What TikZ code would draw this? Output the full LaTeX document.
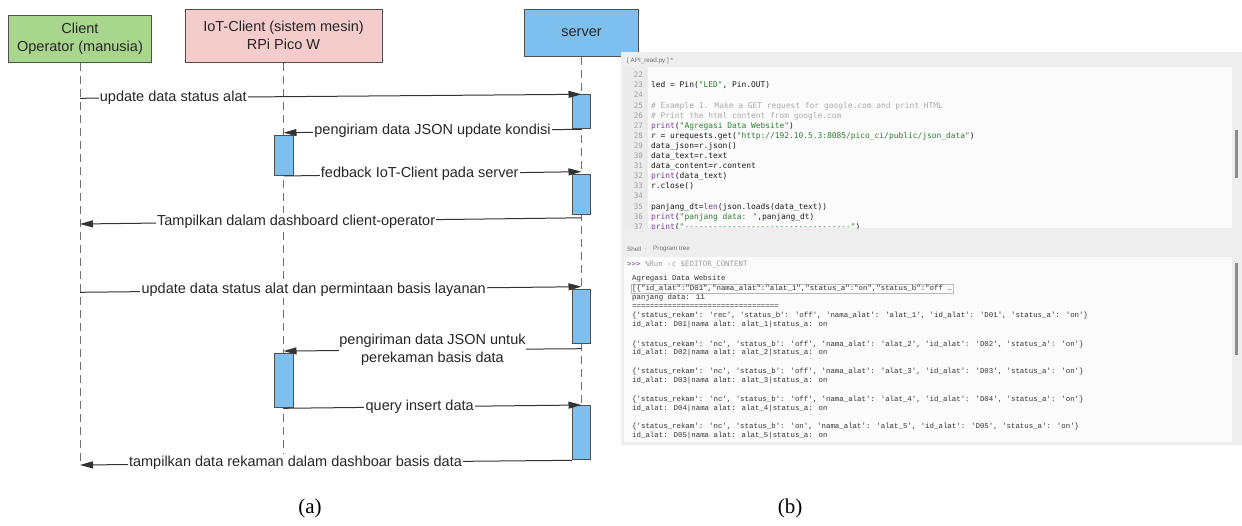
\documentclass[tikz,border=0pt]{standalone}
\usepackage{fontspec}
\setmainfont{Liberation Sans}
\newfontfamily\capfont{Liberation Serif}
\newfontfamily\codefont{DejaVu Sans Mono}[Ligatures=TeXOff]
\newfontfamily\shellfont{Liberation Mono}[Ligatures=TeXOff]
\usetikzlibrary{arrows.meta}
\definecolor{cgreen}{HTML}{A9D68D}
\definecolor{cpink}{HTML}{F4CCCC}
\definecolor{cblue}{HTML}{7DC0F0}
\definecolor{cborder}{HTML}{505050}
\definecolor{cline}{HTML}{333333}
\definecolor{clife}{HTML}{707070}
\definecolor{panelgray}{HTML}{EEEEEE}
\definecolor{editwhite}{HTML}{FBFBFB}
\definecolor{guttergray}{HTML}{EBEBEB}
\definecolor{numgray}{HTML}{A0A0A0}
\definecolor{codeblack}{HTML}{1A1A1A}
\definecolor{ccom}{HTML}{ABABAB}
\definecolor{cstr}{HTML}{2E7D32}
\definecolor{ckw}{HTML}{7B3F98}
\definecolor{shellgray}{HTML}{333333}
\definecolor{tabgray}{HTML}{707070}
\definecolor{thumbgray}{HTML}{8C8C8C}
\newcommand\dictl[3]{\{'status\_rekam': '#1', 'status\_b': '#2', 'nama\_alat': 'alat\_#3', 'id\_alat': 'D0#3', 'status\_a': 'on'\}}
\newcommand\idl[1]{id\_alat: D0#1|nama alat: alat\_#1|status\_a: on}
\begin{document}
\begin{tikzpicture}[x=1pt,y=-1pt,
  hdr/.style={draw=cborder, line width=1pt, align=center, inner sep=2pt,
    font=\fontsize{14.5}{18}\selectfont, text=black!85},
  act/.style={draw=cborder, line width=1pt, fill=cblue, inner sep=0pt, anchor=north},
  life/.style={draw=clife, line width=1pt, dash pattern=on 8pt off 5pt},
  msg/.style={draw=cline, line width=1pt, -{Triangle[length=13pt,width=7pt]}},
  lbl/.style={fill=white, inner sep=1.2pt, font=\fontsize{14.5}{18}\selectfont, text=black!85},
  lnum/.style={anchor=east, inner sep=0pt, text height=5.6pt, text depth=1.6pt,
    font=\codefont\fontsize{7.5}{8}\selectfont, text=numgray},
  code/.style={anchor=west, inner sep=0pt, text height=5.8pt, text depth=1.7pt,
    font=\codefont\fontsize{7.9}{9}\selectfont, text=codeblack},
  sh/.style={anchor=west, inner sep=0pt, text height=5.2pt, text depth=1.5pt,
    font=\shellfont\fontsize{7.4}{8}\selectfont, text=shellgray},
  tabtxt/.style={anchor=west, inner sep=0pt, font=\fontsize{6.3}{7}\selectfont, text=tabgray},
  captxt/.style={font=\capfont\fontsize{21}{24}\selectfont, text=black}]

\path[fill=white] (0,0) rectangle (1242,525);

% ---------- (a) sequence diagram ----------
\node[hdr, fill=cgreen, minimum width=143pt, minimum height=47.5pt] (cli) at (80,38.8) {Client\\Operator (manusia)};
\node[hdr, fill=cpink, minimum width=197pt, minimum height=53pt] (iot) at (283.5,35.8) {IoT-Client (sistem mesin)\\RPi Pico W};
\node[hdr, fill=cblue, minimum width=114pt, minimum height=47.4pt] (srv) at (581.5,33) {server};

\coordinate (cliend) at (80,465);
\coordinate (iotend) at (283.5,453);
\coordinate (srvend) at (581.5,405);
\draw[life] (cli.south) -- (cliend);
\draw[life] (iot.south) -- (iotend);
\draw[life] (srv.south) -- (srvend);

\node[act, minimum width=18pt, minimum height=34pt] (s1) at (581.5,94.3) {};
\node[act, minimum width=19pt, minimum height=40.3pt] (i1) at (283.5,134.7) {};
\node[act, minimum width=18pt, minimum height=40pt] (s2) at (581.5,174.3) {};
\node[act, minimum width=18pt, minimum height=54pt] (s3) at (581.5,289.3) {};
\node[act, minimum width=19pt, minimum height=54pt] (i2) at (283.5,353.3) {};
\node[act, minimum width=18pt, minimum height=54.3pt] (s4) at (581.5,405) {};

\coordinate (c1) at (80,98.3);
\coordinate (c4) at (80,224);
\coordinate (c5) at (80,292.3);
\coordinate (c8) at (80,465);

\draw[msg] (c1) -- node[lbl, pos=.186] (t1) {update data status alat} (s1.north);
\draw[msg] (s1.south) -- node[lbl, pos=.5] (t2) {pengiriam data JSON update kondisi} ([yshift=2pt]i1.north);
\draw[msg] (i1.south) -- node[lbl, pos=.457] (t3) {fedback IoT-Client pada server} ([yshift=2.6pt]s2.north);
\draw[msg] ([yshift=-2.5pt]s2.south) -- node[lbl, pos=.569] (t4) {Tampilkan dalam dashboard client-operator} (c4);
\draw[msg] (c5) -- node[lbl, pos=.466] (t5) {update data status alat dan permintaan basis layanan} ([yshift=2.6pt]s3.north);
\draw[msg] ([yshift=-4.4pt]s3.south) -- node[lbl, pos=.5, align=center, inner sep=0.5pt] (t6) {pengiriman data JSON untuk\\perekaman basis data} ([yshift=2.3pt]i2.north);
\draw[msg] (i2.south) -- node[lbl, pos=.457] (t7) {query insert data} (s4.north);
\draw[msg] (s4.south west) -- node[lbl, pos=.562] (t8) {tampilkan data rekaman dalam dashboar basis data} (c8);

\node[captxt] (capa) at (310,508) {(a)};
\node[captxt] (capb) at (790,508) {(b)};

% ---------- (b) editor screenshot ----------
\fill[panelgray] (621,52) rectangle (1242,445);
\fill[editwhite] (624,67) rectangle (1232,228);
\fill[guttergray] (624,67) rectangle (648,228);
\fill[editwhite] (624,257) rectangle (1232,442);
\fill[thumbgray] (1235,130) rectangle (1238,178);
\fill[thumbgray] (1235,263) rectangle (1238,355);

\node[tabtxt] (tabfile) at (627,60.5) {[ API\_read.py ] *};
\node[tabtxt] (tabshell) at (627,249) {Shell};
\node[tabtxt] (tabdot) at (644,249) {·};
\node[tabtxt] (tabtree) at (653,249) {Program tree};

\begin{scope}
\clip (624,67) rectangle (1232,228);
\foreach \n [evaluate=\n as \yy using 75.7+(\n-22)*10.1] in {22,...,37}
  \node[lnum] (ln\n) at (643,\yy) {\n};
\node[code] (k23) at (651,85.8) {led = Pin(\textcolor{cstr}{"LED"}, Pin.OUT)};
\node[code, text=ccom] (k25) at (651,106.0) {\# Example 1. Make a GET request for google.com and print HTML};
\node[code, text=ccom] (k26) at (651,116.1) {\# Print the html content from google.com};
\node[code] (k27) at (651,126.2) {\textcolor{ckw}{print}(\textcolor{cstr}{"Agregasi Data Website"})};
\node[code] (k28) at (651,136.3) {r = urequests.get(\textcolor{cstr}{"http://192.10.5.3:8085/pico\_ci/public/json\_data"})};
\node[code] (k29) at (651,146.4) {data\_json=r.json()};
\node[code] (k30) at (651,156.5) {data\_text=r.text};
\node[code] (k31) at (651,166.6) {data\_content=r.content};
\node[code] (k32) at (651,176.7) {\textcolor{ckw}{print}(data\_text)};
\node[code] (k33) at (651,186.8) {r.close()};
\node[code] (k35) at (651,207.0) {panjang\_dt=\textcolor{ckw}{len}(json.loads(data\_text))};
\node[code] (k36) at (651,217.1) {\textcolor{ckw}{print}(\textcolor{cstr}{"panjang data: "},panjang\_dt)};
\node[code] (k37) at (651,227.2) {\textcolor{ckw}{print}(\textcolor{cstr}{"-----------------------------------"})};
\end{scope}

\node[code, font=\codefont\fontsize{7.4}{8}\selectfont] (prompt) at (627,264.5) {\textcolor{ckw}{>>>} \textcolor{numgray}{\%Run -c \$EDITOR\_CONTENT}};
\node[sh] (o1) at (632,279.0) {Agregasi Data Website};
\node[sh, draw=gray!55, inner xsep=1pt, inner ysep=1.2pt] (o2) at (631,288.3) {[\{"id\_alat":"D01","nama\_alat":"alat\_1","status\_a":"on","status\_b":"off …};
\node[sh] (o3) at (632,297.3) {panjang data:  11};
\node[sh] (o4) at (632,306.2) {=================================};
\node[sh] (d1) at (632,316.0) {\dictl{rec}{off}{1}};
\node[sh] (e1) at (632,325.0) {\idl{1}};
\node[sh] (d2) at (632,344.3) {\dictl{nc}{off}{2}};
\node[sh] (e2) at (632,352.7) {\idl{2}};
\node[sh] (d3) at (632,371.7) {\dictl{nc}{off}{3}};
\node[sh] (e3) at (632,380.7) {\idl{3}};
\node[sh] (d4) at (632,399.3) {\dictl{nc}{off}{4}};
\node[sh] (e4) at (632,408.5) {\idl{4}};
\node[sh] (d5) at (632,426.8) {\dictl{nc}{on}{5}};
\node[sh] (e5) at (632,435.3) {\idl{5}};

\end{tikzpicture}
\end{document}
